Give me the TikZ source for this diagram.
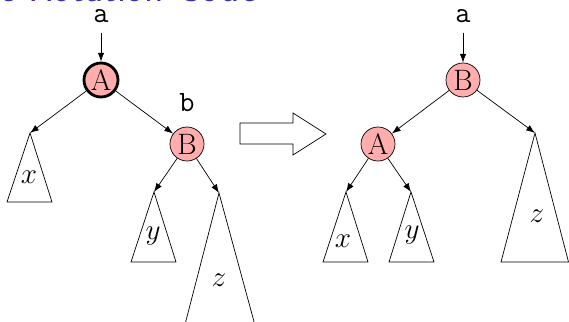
\documentclass[tikz,border=0pt]{standalone}
\usepackage{amsmath,amssymb}
\usepackage{tikz}
\usetikzlibrary{positioning,arrows.meta,calc}
\definecolor{titleblue}{rgb}{0.2,0.2,0.7}
\definecolor{nodepink}{rgb}{1,0.68,0.68}

\begin{document}
\begin{tikzpicture}[
  x=0.025cm, y=-0.025cm,
  tnode/.style={circle, draw=black, fill=nodepink, minimum size=0.85cm, inner sep=0pt, font=\fontsize{21}{24}\selectfont, line width=0.5pt},
  ptr/.style={font=\ttfamily\fontsize{21}{24}\selectfont, inner sep=2pt},
  link/.style={-{Latex[length=2.2mm,width=1.6mm]}, line width=0.5pt, draw=black},
  subtree/.style={line width=0.5pt, draw=black},
  tlabel/.style={font=\fontsize{21}{24}\selectfont},
]
  \useasboundingbox (0,0) rectangle (569,321);
  \clip (0,0) rectangle (569,321);

  \node[anchor=base west, inner sep=0pt, text=titleblue, font=\sffamily\fontsize{28.5}{30}\selectfont] (title) at (-1,2) {e Rotation Code};

  % before the rotation
  \node[ptr] (la) at (101,16) {a};
  \node[tnode, line width=2pt] (lA) at (101,80) {A};
  \node[ptr] (lb) at (187,103) {b};
  \node[tnode] (lB) at (187,144) {B};
  \coordinate (lx) at (30,133);
  \coordinate (ly) at (154,192);
  \coordinate (lz) at (219,193);

  \draw[link, shorten <=5pt] (la) -- (lA);
  \draw[link] (lA) -- (lx);
  \draw[link] (lA) -- (lB);
  \draw[link] (lB) -- (ly);
  \draw[link] (lB) -- (lz);

  \draw[subtree] (lx) -- (7,202) -- (52,202) -- cycle;
  \draw[subtree] (ly) -- (131,262) -- (176,262) -- cycle;
  \draw[subtree] (lz) -- (181,340) -- (259,340) -- cycle;
  \node[tlabel] (lxl) at (29,177) {$x$};
  \node[tlabel] (lyl) at (153,236) {$y$};
  \node[tlabel] (lzl) at (219,280) {$z$};

  % hollow arrow
  \draw[line width=0.5pt] (240,123) -- (293,123) -- (293,113) -- (326,134) -- (293,155) -- (293,144) -- (240,144) -- cycle;

  % after the rotation
  \node[ptr] (ra) at (463,16) {a};
  \node[tnode] (rB) at (463,80) {B};
  \node[tnode] (rA) at (378,144) {A};
  \coordinate (rx) at (346,192);
  \coordinate (ry) at (411,192);
  \coordinate (rz) at (535,133);

  \draw[link, shorten <=5pt] (ra) -- (rB);
  \draw[link] (rB) -- (rA);
  \draw[link] (rB) -- (rz);
  \draw[link] (rA) -- (rx);
  \draw[link] (rA) -- (ry);

  \draw[subtree] (rx) -- (323,262) -- (368,262) -- cycle;
  \draw[subtree] (ry) -- (389,262) -- (434,262) -- cycle;
  \draw[subtree] (rz) -- (501,262) -- (568.5,262) -- cycle;
  \node[tlabel] (rxl) at (343,241) {$x$};
  \node[tlabel] (ryl) at (412,235) {$y$};
  \node[tlabel] (rzl) at (537,216) {$z$};
\end{tikzpicture}
\end{document}
